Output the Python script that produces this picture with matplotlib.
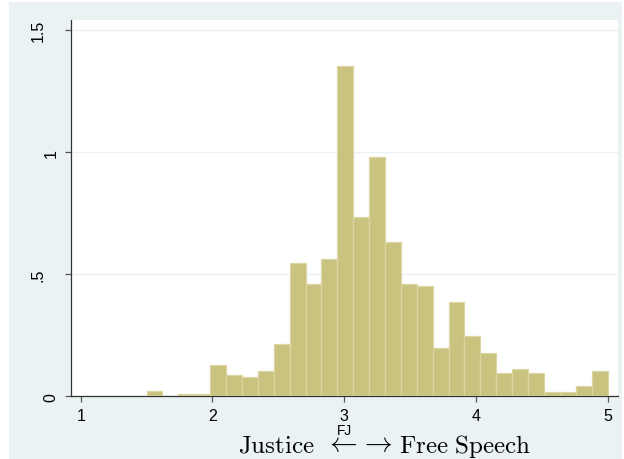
import numpy as np
import matplotlib
matplotlib.use("Agg")
import matplotlib.pyplot as plt
from matplotlib.patches import Rectangle

# Histogram of FJ scores (density scale)
bin_start = 1.5
bin_stop = 5.0
densities = [0.020, 0.0, 0.009, 0.009, 0.128, 0.087, 0.078, 0.104, 0.214,
             0.545, 0.460, 0.563, 1.355, 0.734, 0.980, 0.631, 0.460, 0.452,
             0.197, 0.385, 0.247, 0.179, 0.094, 0.112, 0.094, 0.016, 0.016,
             0.043, 0.104]
x_ticks = [1, 2, 3, 4, 5]
x_tick_labels = ["1", "2", "3", "4", "5"]
y_ticks = [0, 0.5, 1, 1.5]
y_tick_labels = ["0", ".5", "1", "1.5"]

n_bins = len(densities)
bin_width = (bin_stop - bin_start) / n_bins
left_edges = bin_start + bin_width * np.arange(n_bins)

plt.rcParams["mathtext.fontset"] = "cm"
plt.rcParams["font.family"] = ["Liberation Sans", "DejaVu Sans"]

bg = "#EAF2F3"
fig = plt.figure(figsize=(6.24, 4.60), dpi=100, facecolor="white")
fig.patches.append(Rectangle((9 / 624, 0), (622 - 9) / 624, 457 / 460,
                             transform=fig.transFigure, facecolor=bg,
                             edgecolor="none", zorder=-10))

ax = fig.add_axes([71 / 624, (460 - 397.3) / 460, (618 - 71) / 624, (397.3 - 21) / 460])
ax.set_facecolor("white")

ax.bar(left_edges, densities, width=bin_width, align="edge",
       facecolor="#CAC27F", edgecolor="#DCD6A2", linewidth=0.9, zorder=3)

ax.set_xlim(0.9263, 5.0797)
ax.set_ylim(0, 1.542)

ax.set_xticks(x_ticks)
ax.set_xticklabels(x_tick_labels, fontsize=11.5)
ax.set_yticks(y_ticks)
ax.set_yticklabels(y_tick_labels, fontsize=11.5, rotation=90, va="center")
ax.tick_params(axis="both", length=4.3, width=0.9, color="#555555", pad=4.3)

# multi-character y labels sit further out from the axis
for tick, lab in zip(ax.yaxis.get_major_ticks(), y_tick_labels):
    tick.set_pad(14 if len(lab) > 1 else 4.6)

ax.grid(axis="y", color=bg, linewidth=1.0, zorder=0)
ax.grid(axis="x", visible=False)

for side in ("top", "right"):
    ax.spines[side].set_visible(False)
for side in ("left", "bottom"):
    ax.spines[side].set_color("#333333")
    ax.spines[side].set_linewidth(0.9)

# axis title: Justice <- -> Free Speech, with the variable name over the left arrow
base_y = (460 - 453) / 460
arrow_y = (460 - 451) / 460
fig.text(315 / 624, base_y, r"$\mathrm{Justice}$", ha="right", va="baseline",
         fontsize=18)
fig.text(325 / 624, arrow_y, r"$\leftarrow$", ha="left", va="baseline",
         fontsize=20)
fig.text(360.5 / 624, arrow_y, r"$\rightarrow$", ha="left", va="baseline",
         fontsize=20)
fig.text(399 / 624, base_y, r"$\mathrm{Free\ Speech}$", ha="left",
         va="baseline", fontsize=18)
fig.text(344 / 624, (460 - 435.5) / 460, "FJ", ha="center", va="baseline",
         fontsize=9.8)

fig.savefig("out.png", dpi=100, facecolor="white")
